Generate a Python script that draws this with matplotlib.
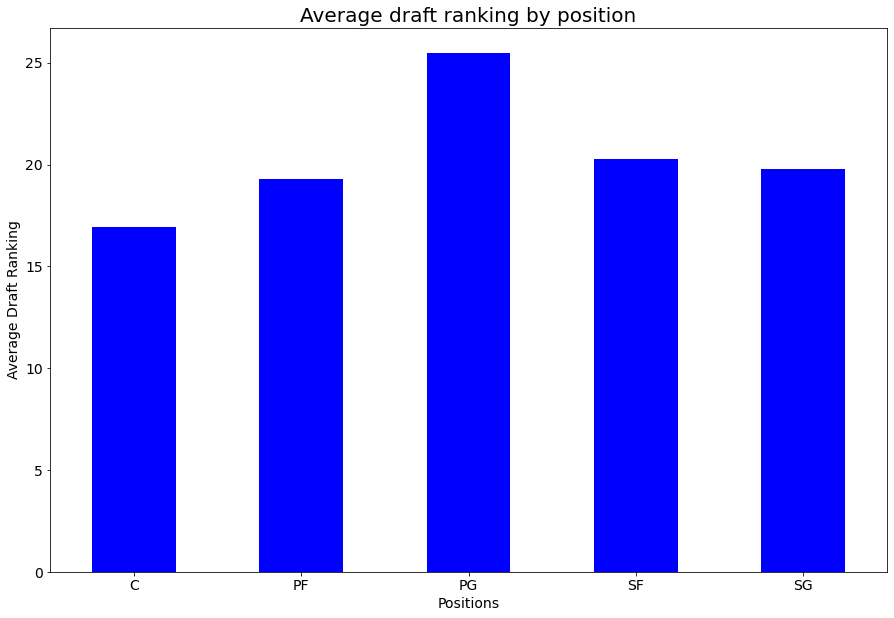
import matplotlib
matplotlib.use('Agg')
import matplotlib.pyplot as plt

positions = ['C', 'PF', 'PG', 'SF', 'SG']
avg_rank = [16.92, 19.31, 25.45, 20.25, 19.76]

fig = plt.figure(figsize=(894 / 72., 618 / 72.), dpi=72)
ax = fig.add_axes([50 / 894., 1 - 572 / 618., (887 - 50) / 894., (572 - 28) / 618.])

x = range(len(positions))
ax.bar(x, avg_rank, width=0.5, color='blue')
ax.set_xticks(list(x))
ax.set_xticklabels(positions)
ax.set_xlim(-0.5, len(positions) - 0.5)
ax.set_ylim(0, 26.7)

ax.set_title('Average draft ranking by position', fontsize=20)
ax.set_xlabel('Positions', fontsize=14)
ax.set_ylabel('Average Draft Ranking', fontsize=14)
ax.tick_params(labelsize=14)

fig.savefig('out.png', dpi=72)
